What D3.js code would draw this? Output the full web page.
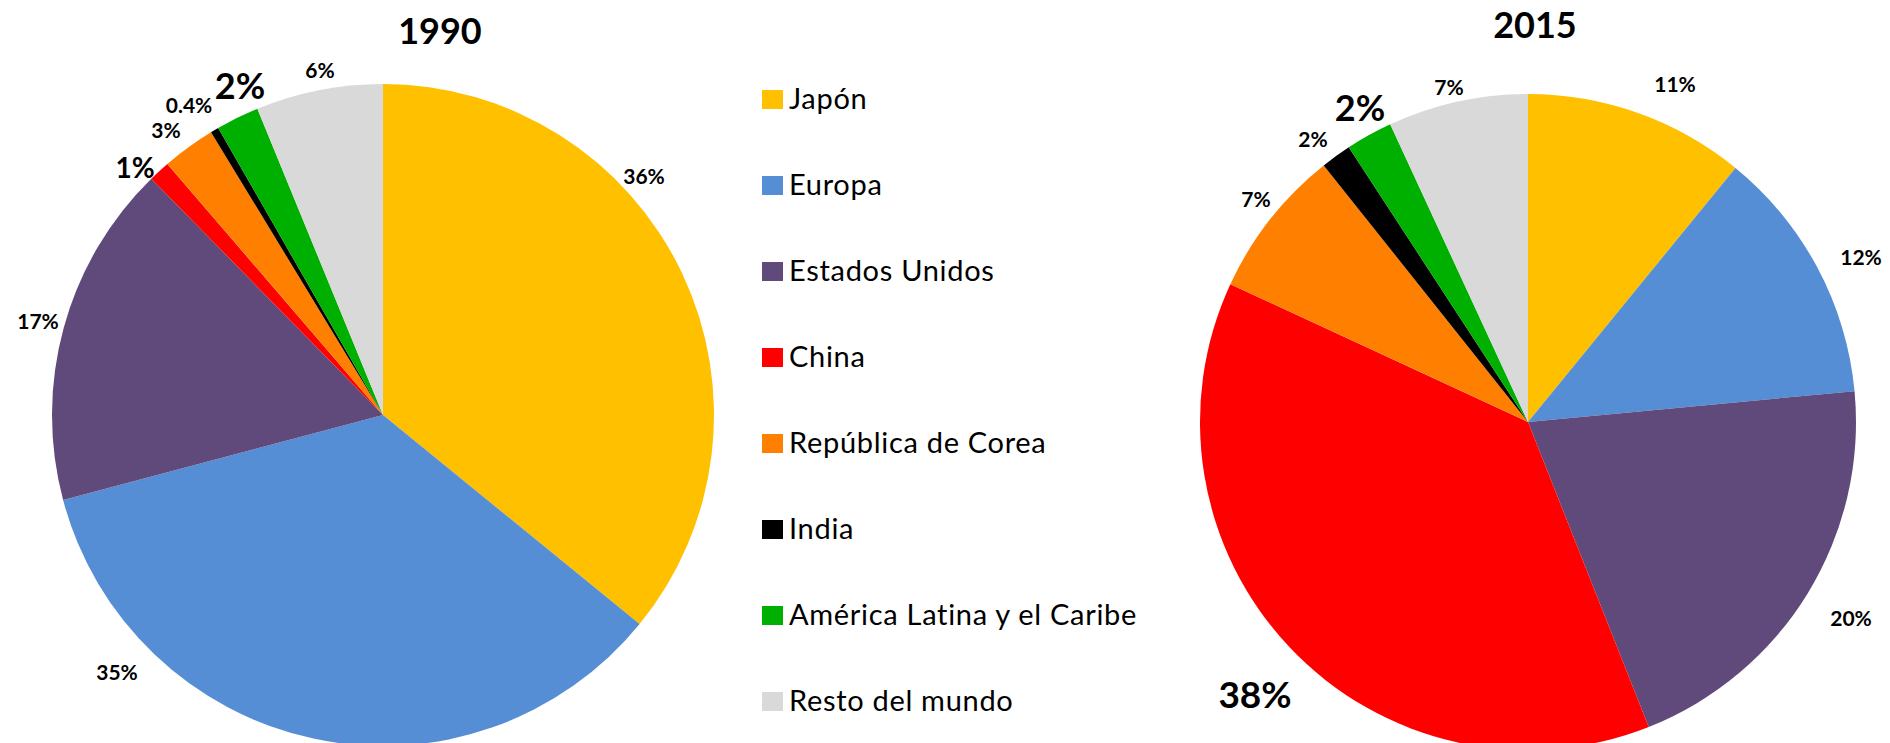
<!DOCTYPE html>
<html>
<head>
<meta charset="utf-8">
<script src="https://cdn.jsdelivr.net/npm/d3@7"></script>
<style>
  body { margin: 0; background: #fff; }
  svg text { font-family: Lato, "Open Sans", sans-serif; }
</style>
</head>
<body>
<div id="chart"></div>
<script>
const categories = ['Japón', 'Europa', 'Estados Unidos', 'China', 'República de Corea', 'India', 'América Latina y el Caribe', 'Resto del mundo'];
const colors = ['#FFC000', '#558ED5', '#604A7B', '#FF0000', '#FF8000', '#000000', '#00B000', '#D9D9D9'];

// shares (%)
const values1990 = [35.9, 35.0, 16.8, 1.05, 2.6, 0.4, 2.1, 6.2];
const values2015 = [10.9, 12.6, 20.5, 37.9, 7.4, 1.5, 2.3, 6.9];
const labels1990 = ['36%', '35%', '17%', '1%', '3%', '0.4%', '2%', '6%'];
const labels2015 = ['11%', '12%', '20%', '38%', '7%', '2%', '2%', '7%'];

const width = 1890, height = 743;
const svg = d3.select('#chart').append('svg')
  .attr('width', width)
  .attr('height', height);

const pie = d3.pie().sort(null).value(d => d);

function drawPie(cfg) {
  const g = svg.append('g').attr('transform', `translate(${cfg.cx},${cfg.cy})`);
  const arc = d3.arc().innerRadius(0).outerRadius(cfg.r);
  const arcs = pie(cfg.values);

  g.selectAll('path.slice')
    .data(arcs)
    .enter().append('path')
    .attr('class', 'slice')
    .attr('d', arc)
    .attr('fill', (d, i) => colors[i]);

  // labels were hand placed in the original, so offsets are kept per slice
  g.selectAll('text.lbl')
    .data(arcs)
    .enter().append('text')
    .attr('class', 'lbl')
    .attr('x', (d, i) => cfg.offsets[i][0])
    .attr('y', (d, i) => cfg.offsets[i][1])
    .attr('text-anchor', 'middle')
    .attr('dominant-baseline', 'central')
    .attr('font-weight', 700)
    .attr('font-size', (d, i) => cfg.sizes[i])
    .attr('fill', '#000')
    .text((d, i) => cfg.labels[i]);

  svg.append('text')
    .attr('x', cfg.tx)
    .attr('y', cfg.ty)
    .attr('text-anchor', 'middle')
    .attr('font-weight', 700)
    .attr('font-size', 36)
    .text(cfg.title);
}

drawPie({
  title: '1990', tx: 440, ty: 44,
  cx: 383, cy: 415, r: 331,
  values: values1990, labels: labels1990,
  sizes: [21, 21, 21, 28, 21, 21, 36, 21],
  offsets: [[261, -240], [-266, 256], [-345, -95], [-248, -248], [-217, -286], [-194, -311], [-143, -330], [-63, -346]]
});

drawPie({
  title: '2015', tx: 1535, ty: 38,
  cx: 1528, cy: 422, r: 328,
  values: values2015, labels: labels2015,
  sizes: [21, 21, 21, 37, 21, 21, 36, 21],
  offsets: [[147, -339], [333, -166], [323, 195], [-273, 271], [-272, -224], [-215, -284], [-168, -315], [-79, -336]]
});

// legend
const legend = svg.append('g').attr('transform', 'translate(762,109)');
const item = legend.selectAll('g.item')
  .data(categories)
  .enter().append('g')
  .attr('class', 'item')
  .attr('transform', (d, i) => `translate(0,${i * 86})`);

item.append('rect')
  .attr('x', 0)
  .attr('y', -19)
  .attr('width', 21)
  .attr('height', 19)
  .attr('fill', (d, i) => colors[i]);

item.append('text')
  .attr('x', 27)
  .attr('y', 0)
  .attr('font-size', 29)
  .attr('letter-spacing', 0.7)
  .attr('fill', '#000')
  .text(d => d);
</script>
</body>
</html>
